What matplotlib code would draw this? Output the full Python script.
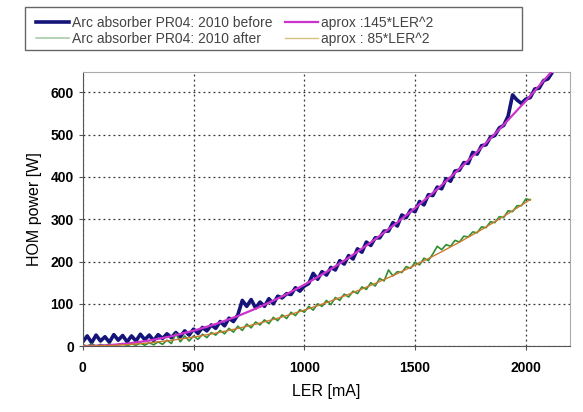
import matplotlib
matplotlib.use("Agg")
import matplotlib.pyplot as plt
from matplotlib.patches import Rectangle

plt.rcParams['font.family'] = ['Liberation Sans', 'DejaVu Sans']

# measured: before (x step 20 mA)
before_x = list(range(0, 2121, 20))
before_y = [10, 24, 8, 26, 12, 22, 9, 27, 14, 25,
            10, 24, 12, 28, 15, 26, 13, 27, 18, 29,
            20, 32, 22, 36, 26, 40, 30, 44, 36, 50,
            42, 58, 48, 66, 58, 74, 108, 94, 110, 90,
            104, 94, 112, 100, 118, 114, 124, 122, 138, 130,
            142, 148, 172, 158, 176, 168, 186, 180, 202, 194,
            214, 206, 230, 222, 246, 238, 256, 256, 272, 272,
            292, 284, 310, 304, 322, 318, 342, 334, 358, 356,
            376, 372, 396, 390, 414, 416, 434, 432, 458, 454,
            474, 476, 494, 498, 516, 522, 544, 594, 582, 574,
            584, 588, 608, 610, 628, 632, 648]

# measured: after (x step 20 mA)
after_x = list(range(0, 2021, 20))
after_y = [3, 0, 5, 0, 4, 1, 5, 0, 4, 6,
           1, 5, 2, 7, 2, 8, 3, 10, 4, 14,
           6, 30, 10, 24, 12, 24, 16, 28, 20, 32,
           26, 37, 29, 42, 33, 47, 37, 52, 43, 57,
           50, 62, 53, 68, 60, 74, 65, 80, 72, 86,
           80, 94, 85, 100, 94, 108, 98, 115, 108, 123,
           116, 130, 124, 140, 134, 150, 142, 160, 154, 180,
           166, 176, 174, 188, 184, 198, 192, 208, 202, 218,
           236, 228, 240, 236, 250, 246, 260, 258, 270, 268,
           282, 280, 294, 292, 306, 304, 320, 318, 332, 332,
           348, 346]

# approximations (values of 145*LER^2 and 85*LER^2, LER in A)
fit145_x = [0, 100, 200, 300, 400, 500, 600, 700, 800, 900, 1000, 1100,
            1200, 1300, 1400, 1500, 1600, 1700, 1800, 1900, 2000, 2100, 2130]
fit145_y = [0, 1.45, 5.8, 13.05, 23.2, 36.25, 52.2, 71.05, 92.8, 117.45, 145,
            175.45, 208.8, 245.05, 284.2, 326.25, 371.2, 419.05, 469.8, 523.45,
            580, 639.45, 657.8]
fit85_x = [0, 100, 200, 300, 400, 500, 600, 700, 800, 900, 1000, 1100,
           1200, 1300, 1400, 1500, 1600, 1700, 1800, 1900, 2000, 2020]
fit85_y = [0, 0.85, 3.4, 7.65, 13.6, 21.25, 30.6, 41.65, 54.4, 68.85, 85,
           102.85, 122.4, 143.65, 166.6, 191.25, 217.6, 245.65, 275.4, 306.85,
           340, 346.8]

labels = ["Arc absorber PR04: 2010 before", "Arc absorber PR04: 2010 after",
          "aprox :145*LER^2", "aprox : 85*LER^2"]
xticks = [0, 500, 1000, 1500, 2000]
yticks = [0, 100, 200, 300, 400, 500, 600]

fig = plt.figure(figsize=(5.83, 4.12), dpi=100)
ax = fig.add_axes([0.142, 0.160, 0.836, 0.665])

l1, = ax.plot(before_x, before_y, color='#14147a', lw=2.6, zorder=2)
l2, = ax.plot(after_x, after_y, color='#2f8f2f', lw=1.2, zorder=3)
l3, = ax.plot(fit145_x, fit145_y, color='#cc33cc', lw=1.6, zorder=4)
l4, = ax.plot(fit85_x, fit85_y, color='#cc7a30', lw=1.0, zorder=4)

ax.set_xlim(0, 2200)
ax.set_ylim(0, 648)
ax.set_xticks(xticks)
ax.set_yticks(yticks)
ax.grid(True, color='#333333', linestyle=(0, (1.5, 2.5)), lw=0.9)
ax.tick_params(labelsize=10, length=3, direction='out', color='#555555')
for t in ax.get_xticklabels() + ax.get_yticklabels():
    t.set_fontweight('bold')
ax.tick_params(axis='x', pad=8)
ax.set_xlabel("LER [mA]", fontsize=11.5, labelpad=6)
ax.set_ylabel("HOM power [W]", fontsize=11.5, labelpad=6)
for s in ['top', 'right']:
    ax.spines[s].set_color('#aaaaaa')
for s in ['left', 'bottom']:
    ax.spines[s].set_color('#555555')

# legend frame
fig.patches.append(Rectangle((0.043, 0.879), 0.852, 0.104, transform=fig.transFigure,
                             facecolor='white', edgecolor='#666666', lw=1.0, zorder=0))
leg_h = [l1, l2, l3, l4]
lg = fig.legend(leg_h, labels, loc='upper left', bbox_to_anchor=(0.045, 0.985),
                ncol=2, fontsize=10, frameon=False,
                handlelength=2.4, handletextpad=0.2,
                columnspacing=0.9, borderpad=0.2, labelspacing=0.15)
for t in lg.get_texts():
    t.set_color('#444444')
lg.legend_handles[1].set_color('#a8cca8')
lg.legend_handles[3].set_color('#d8c080')

fig.savefig("out.png", dpi=100)
